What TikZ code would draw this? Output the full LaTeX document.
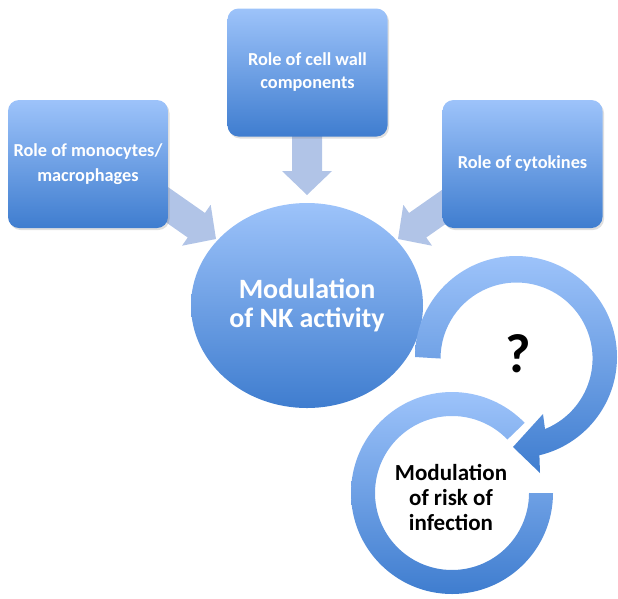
\documentclass[tikz,border=0pt]{standalone}
\usepackage{fontspec}
\setmainfont{Carlito}
\usetikzlibrary{shapes.geometric,shadows}
\definecolor{lightb}{HTML}{9DC3FA}
\definecolor{darkb}{HTML}{3F7DCF}
\definecolor{arrowb}{HTML}{B1C4E7}
\begin{document}
\begin{tikzpicture}[x=1pt,y=-1pt,
  box/.style={rectangle, rounded corners=11pt, top color=lightb, bottom color=darkb,
    text=white, font=\bfseries\fontsize{18.3}{25}\selectfont, align=center,
    minimum width=160pt, minimum height=128pt, inner sep=0pt,
    drop shadow={shadow xshift=1.5pt, shadow yshift=-2pt, opacity=0.25}},
  blob/.style={ellipse, top color=lightb, bottom color=darkb, text=white,
    font=\bfseries\fontsize{28}{29}\selectfont, align=center,
    minimum width=232pt, minimum height=205pt, inner sep=0pt},
  ring/.style={top color=lightb, bottom color=darkb},
  blockarrow/.pic={\fill[arrowb] (-#1,-15) -- (-24,-15) -- (-24,-25) -- (0,0)
      -- (-24,25) -- (-24,15) -- (-#1,15) -- cycle;}
]
\useasboundingbox (0,0) rectangle (618,598);
% block arrows (behind boxes)
\pic[rotate=-90] at (307,195) {blockarrow=59};
\pic[rotate=-35] at (216,239) {blockarrow=80};
\pic[rotate=-145] at (398,239) {blockarrow=80};
% boxes
\node[box] (mono) at (88,164) {Role of monocytes/\\macrophages};
\node[box, font=\bfseries\fontsize{18.3}{23}\selectfont] (wall) at (307.5,72.5) {Role of cell wall\\components};
\node[box] (cyto) at (522.5,164) {Role of cytokines};
% central ellipse
\node[blob] (nk) at (307,305.5) {Modulation\\of NK activity};
% upper circular arrow
\shade[ring] (415,357) arc[start angle=180, end angle=436.6, radius=101]
  -- (540,473) -- (513,447) -- (543,414) -- (545,429)
  arc[start angle=68, end angle=-180, radius=76] -- cycle;
% lower ring
\shade[ring] (553,493) arc[start angle=0, end angle=316, radius=101]
  -- (507.4,439.5) arc[start angle=316, end angle=0, radius=77] -- cycle;
\node[font=\bfseries\fontsize{55}{55}\selectfont] (q) at (518,354) {?};
\node[align=center, font=\bfseries\fontsize{23}{25}\selectfont] (risk) at (451,497)
  {Modulation\\of risk of\\infection};
\end{tikzpicture}
\end{document}
